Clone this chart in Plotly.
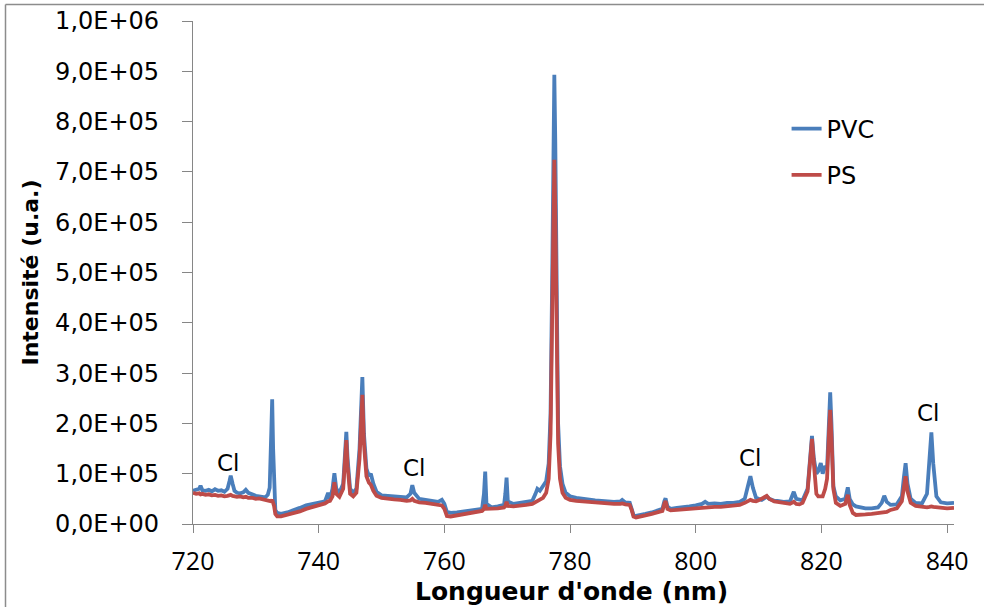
import plotly.graph_objects as go

# ---- data (intensity in thousands of a.u.) ----
wavelength = [
    720.0, 720.5, 721.0, 721.2, 721.5, 722.0, 722.5, 723.0, 723.5, 724.0, 724.5, 725.0,
    725.5, 725.8, 726.0, 726.3, 726.6, 727.0, 727.5, 728.0, 728.4, 728.8, 729.5, 730.0,
    730.5, 731.0, 731.5, 731.9, 732.2, 732.45, 732.6, 732.75, 732.9, 733.1, 733.4, 734.0,
    735.0, 736.0, 737.0, 738.0, 739.0, 740.0, 741.0, 741.5, 741.8, 742.2, 742.5, 742.8,
    743.3, 743.9, 744.2, 744.4, 744.6, 745.0, 745.5, 746.0, 746.5, 746.8, 746.95, 747.2,
    747.6, 748.0, 748.3, 748.7, 749.2, 750.0, 751.0, 752.0, 753.0, 754.0, 754.6, 754.9,
    755.2, 756.0, 757.0, 758.0, 759.0, 759.6, 760.0, 760.4, 761.0, 762.0, 763.0, 764.0,
    765.0, 766.0, 766.3, 766.5, 766.7, 767.5, 768.5, 769.5, 769.7, 769.9, 770.1, 771.0,
    772.0, 773.0, 774.0, 774.5, 774.8, 775.2, 775.7, 776.2, 776.6, 776.9, 777.15, 777.35,
    777.5, 777.65, 777.85, 778.1, 778.4, 778.8, 779.3, 780.0, 781.0, 782.0, 783.0, 784.0,
    785.0, 786.0, 787.0, 788.0, 788.3, 788.8, 789.5, 789.8, 790.1, 790.5, 791.0, 792.0,
    793.0, 794.0, 794.7, 795.0, 795.2, 795.5, 796.0, 797.0, 798.0, 799.0, 800.0, 801.0,
    801.5, 802.0, 803.0, 804.0, 805.0, 806.0, 807.0, 807.8, 808.3, 808.7, 809.1, 809.6,
    810.0, 810.5, 811.0, 811.3, 811.7, 812.5, 813.0, 814.0, 815.0, 815.6, 816.0, 816.5,
    817.0, 817.8, 818.2, 818.5, 818.8, 819.2, 819.5, 819.9, 820.2, 820.6, 820.9, 821.2,
    821.4, 821.6, 821.9, 822.3, 823.0, 823.8, 824.2, 824.5, 825.0, 825.5, 826.0, 827.0,
    828.0, 829.0, 829.6, 830.0, 830.4, 831.0, 832.0, 832.8, 833.1, 833.4, 833.7, 834.2,
    835.0, 836.0, 836.8, 837.2, 837.5, 837.8, 838.3, 839.0, 840.0, 841.1,
]

pvc_k = [
    66, 68, 70, 76, 67, 66, 68, 65, 69, 66, 67, 64,
    70, 85, 96, 80, 66, 62, 61, 63, 68, 62, 58, 56,
    55, 54, 53, 58, 72, 180, 248, 150, 60, 28, 22, 20,
    23, 27, 32, 37, 40, 42, 45, 62, 50, 70, 101, 70,
    62, 80, 150, 183, 130, 70, 62, 70, 150, 270, 292, 180,
    110, 95, 100, 80, 64, 57, 56, 55, 54, 53, 60, 77,
    62, 50, 48, 46, 44, 48, 40, 24, 22, 23, 25, 26,
    28, 30, 60, 104, 40, 33, 35, 38, 60, 92, 45, 40,
    42, 44, 46, 60, 70, 66, 74, 85, 120, 220, 480, 800,
    893, 760, 420, 200, 115, 80, 62, 55, 52, 50, 49, 47,
    46, 45, 44, 45, 48, 43, 42, 30, 18, 16, 17, 20,
    23, 26, 30, 45, 51, 35, 30, 32, 33, 35, 37, 40,
    44, 40, 41, 40, 42, 42, 44, 50, 75, 95, 72, 52,
    50, 48, 52, 55, 50, 46, 46, 44, 45, 64, 50, 48,
    47, 70, 140, 175, 130, 100, 105, 121, 100, 115, 110, 200,
    262, 200, 75, 55, 47, 50, 73, 50, 39, 35, 33, 31,
    31, 33, 42, 56, 44, 38, 39, 55, 90, 121, 80, 50,
    42, 41, 60, 130, 182, 120, 55, 43, 41, 42,
]

ps_k = [
    62, 60, 61, 59, 60, 58, 59, 57, 58, 56, 57, 55,
    56, 57, 58, 56, 55, 54, 55, 53, 54, 52, 52, 50,
    51, 49, 48, 47, 46, 45, 48, 44, 36, 20, 15, 15,
    18, 21, 25, 30, 34, 37, 41, 45, 46, 55, 83, 60,
    54, 70, 130, 167, 115, 60, 55, 62, 130, 235, 257, 160,
    95, 82, 78, 66, 56, 52, 50, 49, 48, 46, 47, 50,
    46, 43, 42, 40, 38, 37, 30, 16, 15, 17, 20, 22,
    24, 26, 30, 38, 30, 30, 31, 33, 36, 44, 36, 35,
    36, 38, 40, 44, 46, 48, 52, 62, 90, 180, 400, 660,
    724, 620, 350, 160, 90, 62, 52, 48, 46, 45, 44, 42,
    42, 41, 40, 40, 41, 39, 38, 28, 15, 13, 14, 17,
    20, 23, 26, 40, 46, 30, 27, 28, 29, 30, 32, 33,
    34, 33, 34, 34, 35, 36, 38, 42, 46, 48, 46, 45,
    47, 50, 54, 56, 50, 45, 44, 42, 40, 44, 40, 39,
    42, 65, 135, 169, 120, 60, 55, 54, 55, 70, 90, 180,
    227, 175, 70, 42, 36, 40, 58, 38, 22, 18, 18, 19,
    20, 21, 22, 23, 24, 28, 31, 45, 75, 95, 65, 42,
    36, 34, 33, 34, 35, 34, 33, 32, 31, 32,
]

series_names = ["PVC", "PS"]
series_colors = ["#4A7EBB", "#BE4B48"]

y_tick_values = [0, 100000, 200000, 300000, 400000, 500000, 600000, 700000, 800000, 900000, 1000000]
y_tick_labels = ["0,0E+00", "1,0E+05", "2,0E+05", "3,0E+05", "4,0E+05", "5,0E+05",
                 "6,0E+05", "7,0E+05", "8,0E+05", "9,0E+05", "1,0E+06"]
x_tick_values = [720, 740, 760, 780, 800, 820, 840]
x_tick_labels = ["720", "740", "760", "780", "800", "820", "840"]

cl_text = ["Cl", "Cl", "Cl", "Cl"]
cl_x = [725.6, 755.2, 808.7, 837.0]
cl_y = [121000, 111000, 132000, 220000]

x_title = "Longueur d'onde (nm)"
y_title = "Intensité (u.a.)"

# ---- figure ----
fig = go.Figure()
for name, color, vals, grp in [(series_names[0], series_colors[0], pvc_k, "a"),
                               (series_names[1], series_colors[1], ps_k, "b")]:
    fig.add_trace(go.Scatter(
        x=wavelength, y=[v * 1000 for v in vals], mode="lines", name=name,
        legendgroup=grp, line=dict(color=color, width=3.8),
    ))

for t, xv, yv in zip(cl_text, cl_x, cl_y):
    fig.add_annotation(x=xv, y=yv, xref="x", yref="y", text=t, showarrow=False,
                       font=dict(family="DejaVu Sans", size=23, color="#000000"))

# x-axis title placed below the tick labels
fig.add_annotation(x=0.497, y=-0.134, xref="paper", yref="paper", xanchor="center",
                   yanchor="middle", text="<b>" + x_title + "</b>", showarrow=False,
                   font=dict(family="DejaVu Sans", size=25, color="#000000"))

axis_color = "#868686"
fig.update_layout(
    width=984, height=607,
    margin=dict(l=193, r=30, t=21, b=83),
    paper_bgcolor="white", plot_bgcolor="white",
    showlegend=True,
    legend=dict(x=0.78, y=0.83, xanchor="left", yanchor="top",
                font=dict(family="DejaVu Sans", size=24, color="#000000"),
                bgcolor="rgba(0,0,0,0)", tracegroupgap=12, itemwidth=30),
    xaxis=dict(range=[720, 841.1], tickvals=x_tick_values, ticktext=x_tick_labels,
               showline=True, linecolor=axis_color, linewidth=1.2,
               ticks="outside", ticklen=8, tickcolor=axis_color, tickwidth=1.2,
               showgrid=False, zeroline=False, automargin=False,
               tickfont=dict(family="Open Sans", size=25, color="#000000"),
               ticklabelstandoff=7),
    yaxis=dict(range=[0, 1000000], tickvals=y_tick_values, ticktext=y_tick_labels,
               showline=True, linecolor=axis_color, linewidth=1.2,
               ticks="outside", ticklen=10, tickcolor=axis_color, tickwidth=1.2,
               showgrid=False, zeroline=False, automargin=False,
               tickfont=dict(family="DejaVu Sans", size=24, color="#000000"),
               ticklabelstandoff=18,
               title=dict(text="<b>" + y_title + "</b>", standoff=10,
                          font=dict(family="DejaVu Sans", size=22, color="#000000"))),
)

# chart-area border (top and left edges visible)
x0 = (5.5 - 193) / (954 - 193)
y0 = (524 - 4.5) / (524 - 21)
fig.add_shape(type="line", xref="paper", yref="paper", x0=x0, y0=y0, x1=1.05, y1=y0,
              line=dict(color="#8c8c8c", width=1.5))
fig.add_shape(type="line", xref="paper", yref="paper", x0=x0, y0=y0, x1=x0, y1=-0.2,
              line=dict(color="#8c8c8c", width=1.5))

fig.write_html("out.html", config={"displayModeBar": False},
               post_script="document.body.style.margin='0';")
